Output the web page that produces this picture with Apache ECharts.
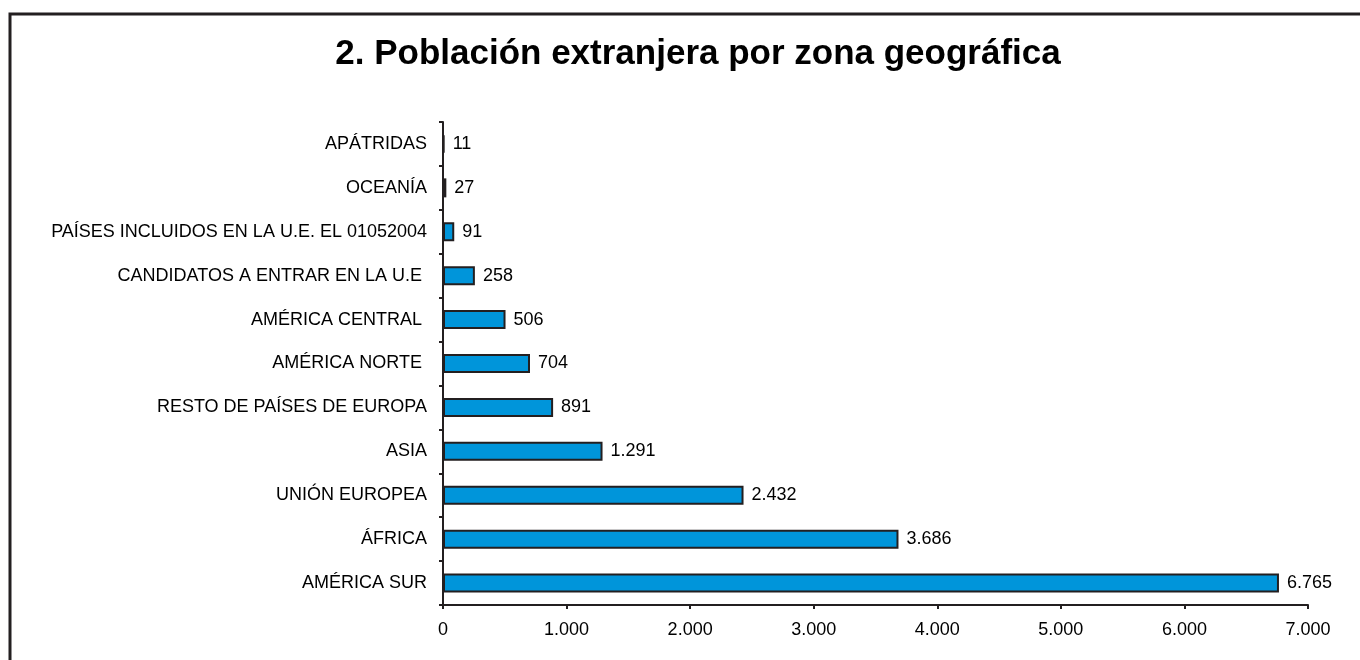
<!DOCTYPE html>
<html>
<head>
<meta charset="utf-8">
<script src="https://cdn.jsdelivr.net/npm/echarts@6/dist/echarts.min.js"></script>
<style>
  html, body { margin: 0; padding: 0; background: #fff; }
  #chart { width: 1360px; height: 660px; }
</style>
</head>
<body>
<div id="chart"></div>
<script>
// categories from bottom to top
var zonas = ['AMÉRICA SUR', 'ÁFRICA', 'UNIÓN EUROPEA', 'ASIA', 'RESTO DE PAÍSES DE EUROPA',
  'AMÉRICA NORTE ', 'AMÉRICA CENTRAL ', 'CANDIDATOS A ENTRAR EN LA U.E ',
  'PAÍSES INCLUIDOS EN LA U.E. EL 01052004', 'OCEANÍA', 'APÁTRIDAS'];
var poblacion = [6765, 3686, 2432, 1291, 891, 704, 506, 258, 91, 27, 11];

function miles(v) {
  return String(v).replace(/\B(?=(\d{3})+(?!\d))/g, '.');
}

var fuente = 'Liberation Sans, Arial';
var myChart = echarts.init(document.getElementById('chart'));
var option = {
  animation: false,
  backgroundColor: '#fff',
  title: {
    text: '2. Población extranjera por zona geográfica',
    left: 693,
    textAlign: 'center',
    top: 32,
    textStyle: { fontFamily: fuente, fontSize: 35, fontWeight: 'bold', color: '#000' }
  },
  graphic: [{
    type: 'rect',
    shape: { x: 10, y: 14, width: 1380, height: 700 },
    style: { fill: 'none', stroke: '#231f20', lineWidth: 3 },
    silent: true
  }],
  grid: { left: 443, right: 52, top: 122, bottom: 55 },
  xAxis: {
    type: 'value',
    min: 0,
    max: 7000,
    interval: 1000,
    splitLine: { show: false },
    axisLine: { show: true, lineStyle: { color: '#231f20', width: 2 } },
    axisTick: { show: true, length: 4, lineStyle: { color: '#231f20', width: 2 } },
    axisLabel: {
      margin: 16, color: '#000', fontSize: 18, fontFamily: fuente,
      formatter: function (v) { return miles(v); }
    }
  },
  yAxis: {
    type: 'category',
    data: zonas,
    axisLine: { lineStyle: { color: '#231f20', width: 2 } },
    axisTick: { show: true, length: 4, lineStyle: { color: '#231f20', width: 2 } },
    axisLabel: { margin: 16, color: '#000', fontSize: 18, fontFamily: fuente }
  },
  series: [{
    type: 'bar',
    data: poblacion,
    barWidth: 19,
    itemStyle: { color: '#0095da', borderColor: '#231f20', borderWidth: 2 },
    label: {
      show: true,
      position: 'right',
      distance: 8,
      color: '#000',
      fontSize: 18,
      fontFamily: fuente,
      formatter: function (p) { return miles(p.value); }
    }
  }]
};
myChart.setOption(option);
</script>
</body>
</html>
